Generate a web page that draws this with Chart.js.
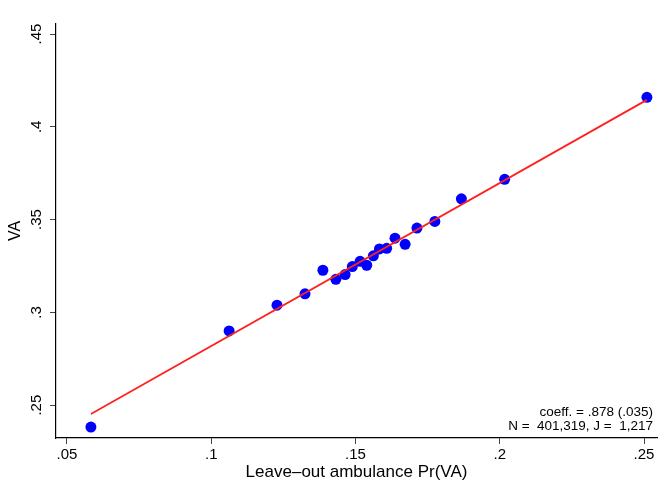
<!DOCTYPE html>
<html>
<head>
<meta charset="utf-8">
<script src="https://cdn.jsdelivr.net/npm/chart.js@4.4.1/dist/chart.umd.min.js"></script>
<style>
  html, body { margin:0; padding:0; background:#fff; }
  #wrap { width:672px; height:483px; }
</style>
</head>
<body>
<div id="wrap"><canvas id="mainChart" width="672" height="483"></canvas></div>
<script>
// binned scatter: leave-out ambulance Pr(VA) vs VA
const binX = [0.0583, 0.1062, 0.1228, 0.1325, 0.1387, 0.1432, 0.1464, 0.1489, 0.1516, 0.1539, 0.1562, 0.1583, 0.1608, 0.1637, 0.1672, 0.1713, 0.1775, 0.1867, 0.2017, 0.2510];
const binY = [0.2382, 0.2900, 0.3039, 0.3100, 0.3227, 0.3178, 0.3204, 0.3247, 0.3275, 0.3254, 0.3305, 0.3342, 0.3345, 0.3400, 0.3367, 0.3454, 0.3490, 0.3612, 0.3717, 0.4159];
const fitX = [0.0583, 0.2510];
const fitY = [0.2452, 0.4145];
const xTicks = [0.05, 0.1, 0.15, 0.2, 0.25];
const yTicks = [0.25, 0.3, 0.35, 0.4, 0.45];
const noteLines = ['coeff. = .878 (.035)', 'N =  401,319, J =  1,217'];

const FONT = '"Liberation Sans", Arial, sans-serif';
const fmt = v => String(+v.toFixed(2)).replace(/^0/, '');

// vertical tick labels on the y axis, centred on each tick
const yLabelPlugin = {
  id: 'yLabels',
  afterDraw(chart) {
    const { ctx } = chart;
    const s = chart.scales.y;
    ctx.save();
    ctx.font = '15px ' + FONT;
    ctx.fillStyle = '#000';
    ctx.textAlign = 'center';
    ctx.textBaseline = 'alphabetic';
    yTicks.forEach(v => {
      ctx.save();
      ctx.translate(s.right - 15, s.getPixelForValue(v));
      ctx.rotate(-Math.PI / 2);
      ctx.fillText(fmt(v), 0, 0);
      ctx.restore();
    });
    ctx.restore();
  }
};

const notePlugin = {
  id: 'note',
  afterDraw(chart) {
    const { ctx, chartArea } = chart;
    ctx.save();
    ctx.font = '13.5px ' + FONT;
    ctx.fillStyle = '#000';
    ctx.textAlign = 'right';
    ctx.textBaseline = 'alphabetic';
    ctx.fillText(noteLines[0], chartArea.right - 4, chartArea.bottom - 22);
    ctx.fillText(noteLines[1], chartArea.right - 4, chartArea.bottom - 8);
    ctx.restore();
  }
};

const ctx = document.getElementById('mainChart').getContext('2d');
new Chart(ctx, {
  type: 'scatter',
  data: {
    datasets: [
      {
        type: 'line',
        data: fitX.map((x, i) => ({ x, y: fitY[i] })),
        borderColor: '#ff2020',
        borderWidth: 1.8,
        pointRadius: 0,
        fill: false
      },
      {
        data: binX.map((x, i) => ({ x, y: binY[i] })),
        backgroundColor: '#0000ff',
        borderColor: '#0000ff',
        borderWidth: 0,
        pointRadius: 5.5
      }
    ]
  },
  options: {
    responsive: false,
    animation: false,
    layout: { padding: { top: 24, right: 15, left: 0, bottom: 0 } },
    plugins: { legend: { display: false }, tooltip: { enabled: false } },
    scales: {
      x: {
        type: 'linear',
        min: 0.0462,
        max: 0.2545,
        afterBuildTicks: s => { s.ticks = xTicks.map(v => ({ value: v })); },
        afterFit: s => { s.height = 45; },
        border: { color: '#000', width: 1.2 },
        grid: { drawOnChartArea: false, tickLength: 6, color: '#444' },
        ticks: { color: '#000', padding: 2, maxRotation: 0, callback: v => fmt(v),
                 font: { family: FONT, size: 15 } },
        title: { display: true, text: 'Leave\u2013out ambulance Pr(VA)', color: '#000', padding: { top: 0, bottom: 0 },
                 font: { family: FONT, size: 17 } }
      },
      y: {
        type: 'linear',
        min: 0.2323,
        max: 0.4554,
        afterBuildTicks: s => { s.ticks = yTicks.map(v => ({ value: v })); },
        afterFit: s => { s.width = 56; },
        border: { color: '#000', width: 1.2 },
        grid: { drawOnChartArea: false, tickLength: 6, color: '#444' },
        ticks: { display: false },
        title: { display: true, text: 'VA', color: '#000', padding: { top: 6, bottom: 0 },
                 font: { family: FONT, size: 16 } }
      }
    }
  },
  plugins: [yLabelPlugin, notePlugin]
});
</script>
</body>
</html>
